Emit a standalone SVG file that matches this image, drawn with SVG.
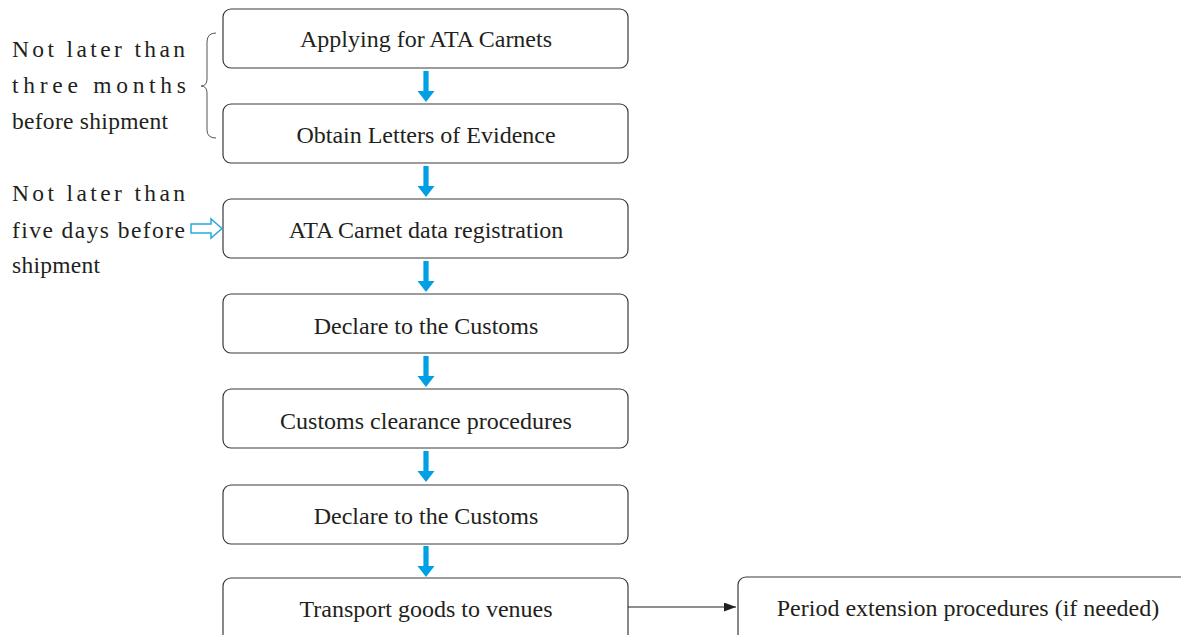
<svg xmlns="http://www.w3.org/2000/svg" width="1181" height="635" viewBox="0 0 1181 635">
<style>
.box{fill:#fff;stroke:#3a3a3a;stroke-width:1.2}
.bt{font-family:"Liberation Serif",serif;font-size:24px;fill:#231f20;text-anchor:middle}
.lt{font-family:"Liberation Serif",serif;font-size:23.5px;fill:#231f20}
.blue{fill:#00a0e4}
</style>
<defs>
<marker id="ah" markerWidth="12" markerHeight="9" refX="12" refY="4.5" orient="auto" markerUnits="userSpaceOnUse">
<path d="M0,0 L12,4.5 L0,9 Z" fill="#231f20"/>
</marker>
<g id="bdown"><rect x="-2.6" y="0" width="5.2" height="21" class="blue"/><path d="M-8.5,20 L8.5,20 L0,31 Z" class="blue"/></g>
</defs>
<g id="n1"><rect class="box" x="223" y="9" width="405" height="59" rx="8"/><text class="bt" x="426" y="47">Applying for ATA Carnets</text></g>
<g id="n2"><rect class="box" x="223" y="104" width="405" height="59" rx="8"/><text class="bt" x="426" y="143">Obtain Letters of Evidence</text></g>
<g id="n3"><rect class="box" x="223" y="199" width="405" height="59" rx="8"/><text class="bt" x="426" y="238">ATA Carnet data registration</text></g>
<g id="n4"><rect class="box" x="223" y="294" width="405" height="59" rx="8"/><text class="bt" x="426" y="334">Declare to the Customs</text></g>
<g id="n5"><rect class="box" x="223" y="389" width="405" height="59" rx="8"/><text class="bt" x="426" y="429">Customs clearance procedures</text></g>
<g id="n6"><rect class="box" x="223" y="485" width="405" height="59" rx="8"/><text class="bt" x="426" y="524">Declare to the Customs</text></g>
<g id="n7"><rect class="box" x="223" y="578" width="405" height="70" rx="8"/><text class="bt" x="426" y="617">Transport goods to venues</text></g>
<g id="n8"><rect class="box" x="738" y="577" width="470" height="70" rx="8"/><text class="bt" x="968" y="616">Period extension procedures (if needed)</text></g>
<g id="note1">
<text class="lt" x="12" y="57" textLength="173" lengthAdjust="spacing">Not later than</text>
<text class="lt" x="12" y="93" textLength="174" lengthAdjust="spacing">three months</text>
<text class="lt" x="12" y="129" textLength="156" lengthAdjust="spacing">before shipment</text>
<path d="M216,33 Q207,33 207,42 L207,79 Q207,86 201,86 Q207,86 207,93 L207,130 Q207,138 216,138" fill="none" stroke="#555" stroke-width="1"/>
</g>
<g id="note2">
<text class="lt" x="12" y="201" textLength="173" lengthAdjust="spacing">Not later than</text>
<text class="lt" x="12" y="238" textLength="173" lengthAdjust="spacing">five days before</text>
<text class="lt" x="12" y="273" textLength="88" lengthAdjust="spacing">shipment</text>
</g>
<g id="connectors">
<use href="#bdown" x="426" y="71"/>
<use href="#bdown" x="426" y="166"/>
<use href="#bdown" x="426" y="261"/>
<use href="#bdown" x="426" y="356"/>
<use href="#bdown" x="426" y="451"/>
<use href="#bdown" x="426" y="546"/>
<polygon points="191,224 211,224 211,219 222,228.5 211,238 211,233 191,233" fill="#fff" stroke="#29abe2" stroke-width="1.5"/>
<line x1="628" y1="607" x2="736" y2="607" stroke="#231f20" stroke-width="1.2" marker-end="url(#ah)"/>
</g>
</svg>
